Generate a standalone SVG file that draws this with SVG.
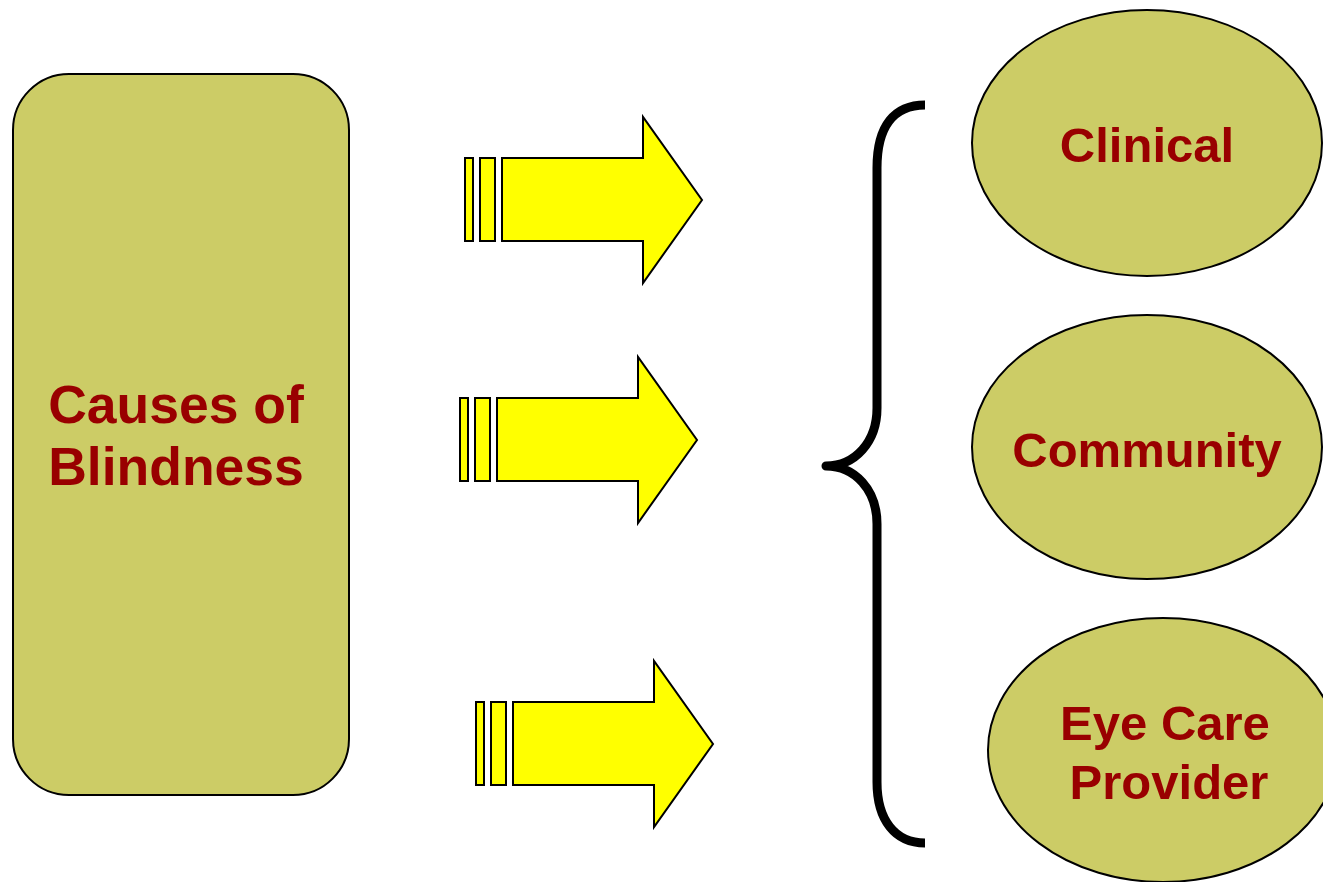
<svg xmlns="http://www.w3.org/2000/svg" width="1323" height="882" viewBox="0 0 1323 882">
<style>
.node{fill:#CCCC66;stroke:#000;stroke-width:2}
.lbl{font-family:"Liberation Sans",Arial,sans-serif;font-weight:bold;font-size:49px;fill:#990000;text-anchor:middle}
.big{font-size:53.5px}
.arr{fill:#FFFF00;stroke:#000;stroke-width:2;stroke-linejoin:miter}
</style>
<defs>
<g id="arrow">
<rect class="arr" x="465" y="158" width="8" height="83"/>
<rect class="arr" x="480" y="158" width="15" height="83"/>
<path class="arr" d="M502,158 L643,158 L643,117 L702,200 L643,283 L643,241 L502,241 Z"/>
</g>
</defs>
<rect width="1323" height="882" fill="#fff"/>
<g id="causes">
<rect class="node" x="13" y="74" width="336" height="721" rx="56" ry="56"/>
<text class="lbl big" x="176" y="423">Causes of</text>
<text class="lbl big" x="176" y="485">Blindness</text>
</g>
<g id="connectors">
<use href="#arrow"/>
<use href="#arrow" transform="translate(-5,240)"/>
<use href="#arrow" transform="translate(11,544)"/>
<path d="M925,105 C895,105 877,125 877,168 L877,408 C877,442 855,466 826,466 C855,466 877,490 877,524 L877,782 C877,820 895,843 925,843" fill="none" stroke="#000" stroke-width="9" stroke-linejoin="round"/>
</g>
<g id="clinical">
<ellipse class="node" cx="1147" cy="143" rx="175" ry="133"/>
<text class="lbl" x="1147" y="162">Clinical</text>
</g>
<g id="community">
<ellipse class="node" cx="1147" cy="447" rx="175" ry="132"/>
<text class="lbl" x="1147" y="467">Community</text>
</g>
<g id="eyecare">
<ellipse class="node" cx="1163" cy="750" rx="175" ry="132"/>
<text class="lbl" x="1165" y="740">Eye Care</text>
<text class="lbl" x="1169" y="799">Provider</text>
</g>
</svg>
